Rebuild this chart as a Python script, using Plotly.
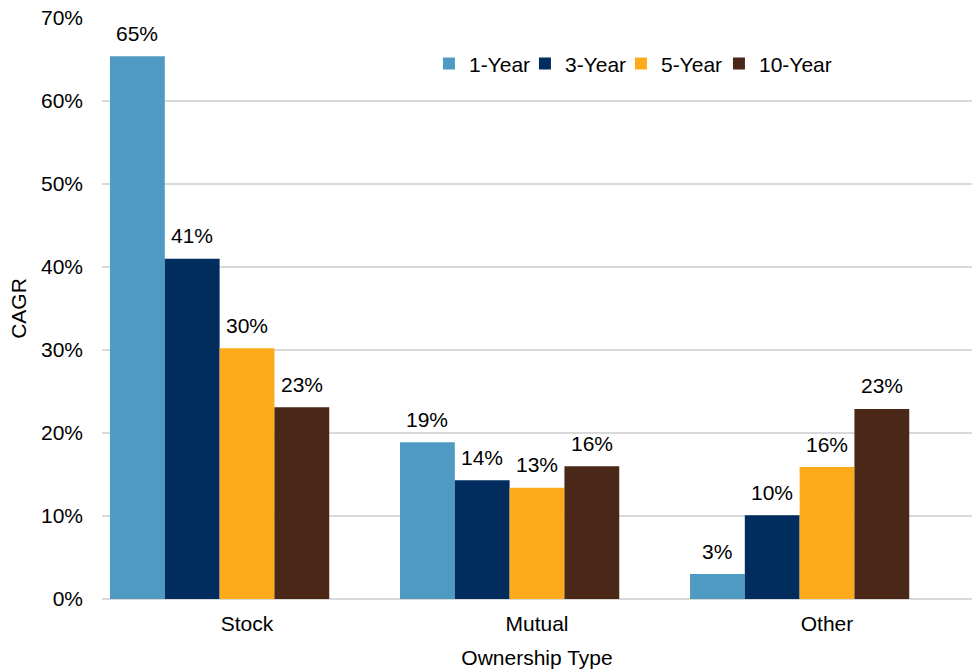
import plotly.graph_objects as go

categories = ["Stock", "Mutual", "Other"]
series_names = ["1-Year", "3-Year", "5-Year", "10-Year"]
one_year = [0.654, 0.189, 0.030]
three_year = [0.410, 0.143, 0.101]
five_year = [0.302, 0.134, 0.159]
ten_year = [0.231, 0.160, 0.229]
colors = ["#4F9AC3", "#012D5E", "#FDAB1A", "#4B2717"]
y_ticks = [0, 0.1, 0.2, 0.3, 0.4, 0.5, 0.6, 0.7]
y_tick_labels = ["0%", "10%", "20%", "30%", "40%", "50%", "60%", "70%"]

series_values = [one_year, three_year, five_year, ten_year]

FONT = "Liberation Sans, Arial, sans-serif"
FS = 21
BAR_W = 0.189
START = -0.5 + 0.0276
LEGEND_W = [51, 51, 53, 90]

fig = go.Figure()
annotations = []
for i, (name, vals, col) in enumerate(zip(series_names, series_values, colors)):
    off = START + i * BAR_W
    fig.add_trace(go.Bar(
        x=categories, y=vals, name=name,
        marker=dict(color=col, line=dict(width=0)),
        width=BAR_W, offset=off, legendwidth=LEGEND_W[i],
    ))
    for ci, v in enumerate(vals):
        annotations.append(dict(
            x=ci + off + BAR_W / 2, y=v, xref="x", yref="y",
            text=f"{round(v * 100):.0f}%", showarrow=False,
            yanchor="middle", yshift=23,
            font=dict(family=FONT, size=FS, color="#000000"),
        ))

fig.update_layout(
    width=972, height=671,
    margin=dict(l=102, r=0, t=18, b=72, autoexpand=False),
    paper_bgcolor="white", plot_bgcolor="white",
    barmode="group",
    font=dict(family=FONT, size=FS, color="#000000"),
    showlegend=True,
    legend=dict(
        orientation="h", x=0.3758, y=0.921, xanchor="left", yanchor="middle",
        font=dict(family=FONT, size=FS, color="#000000"),
        itemwidth=30, bgcolor="rgba(0,0,0,0)",
    ),
    annotations=annotations,
)
fig.update_xaxes(
    type="category",
    title=dict(text="Ownership Type", font=dict(size=FS), standoff=16),
    showgrid=False, showline=False, zeroline=False,
    ticks="", ticklabelstandoff=10, automargin=False,
    tickfont=dict(size=FS),
)
fig.update_yaxes(
    range=[0, 0.70],
    tickvals=y_ticks, ticktext=y_tick_labels,
    title=dict(text="CAGR", font=dict(size=FS), standoff=8),
    showgrid=True, gridcolor="#D9D9D9", gridwidth=2,
    zeroline=True, zerolinecolor="#D9D9D9", zerolinewidth=2,
    showline=False, ticks="", ticklabelstandoff=18, automargin=False,
    tickfont=dict(size=FS),
)

# remove the page's default 8px body margin so the figure fills the window exactly
fig.write_html(
    "out.html",
    config={"displayModeBar": False},
    post_script="document.body.style.margin='0';document.body.style.overflow='hidden';",
)
